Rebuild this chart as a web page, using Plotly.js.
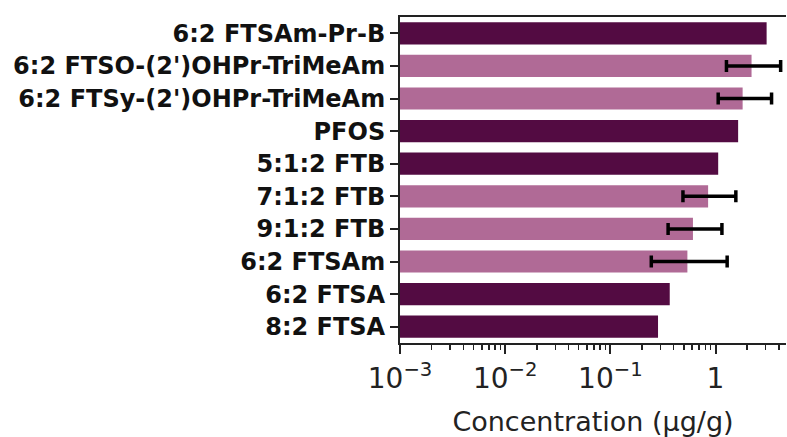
<!DOCTYPE html>
<html>
<head>
<meta charset="utf-8">
<script src="https://cdn.plot.ly/plotly-3.0.1.min.js"></script>
<style>html,body{margin:0;padding:0;background:#fff;}#chart{width:787px;height:437px;}</style>
</head>
<body>
<div id="chart"></div>
<script>
// Categories, top to bottom
const categories = ["6:2 FTSAm-Pr-B", "6:2 FTSO-(2')OHPr-TriMeAm", "6:2 FTSy-(2')OHPr-TriMeAm", "PFOS",
  "5:1:2 FTB", "7:1:2 FTB", "9:1:2 FTB", "6:2 FTSAm", "6:2 FTSA", "8:2 FTSA"];

// Dark bars (no error bars)
const darkCats = ["6:2 FTSAm-Pr-B", "PFOS", "5:1:2 FTB", "6:2 FTSA", "8:2 FTSA"];
const darkVals = [3.06, 1.64, 1.06, 0.367, 0.284];

// Light bars (with asymmetric error bars)
const lightCats = ["6:2 FTSO-(2')OHPr-TriMeAm", "6:2 FTSy-(2')OHPr-TriMeAm", "7:1:2 FTB", "9:1:2 FTB", "6:2 FTSAm"];
const lightVals = [2.2, 1.81, 0.85, 0.61, 0.54];
const lightLow  = [1.27, 1.06, 0.49, 0.354, 0.245];
const lightHigh = [4.16, 3.41, 1.56, 1.15, 1.29];

const tickVals = [0.001, 0.01, 0.1, 1];
const tickText = ["10<sup>\u22123</sup>", "10<sup>\u22122</sup>", "10<sup>\u22121</sup>", "1"];

const darkColor = "#530b42";
const lightColor = "#b06a96";

const traces = [
  {
    type: "bar", orientation: "h",
    x: darkVals, y: darkCats,
    marker: {color: darkColor, line: {width: 0}},
    hoverinfo: "skip"
  },
  {
    type: "bar", orientation: "h",
    x: lightVals, y: lightCats,
    marker: {color: lightColor, line: {width: 0}},
    error_x: {
      type: "data", symmetric: false,
      array: lightHigh.map((h, i) => h - lightVals[i]),
      arrayminus: lightLow.map((l, i) => lightVals[i] - l),
      color: "#000", thickness: 3.5, width: 6
    },
    hoverinfo: "skip"
  }
];

const layout = {
  width: 787, height: 437,
  margin: {l: 400, r: 1, t: 17, b: 94},
  paper_bgcolor: "#fff", plot_bgcolor: "#fff",
  showlegend: false,
  barmode: "overlay",
  bargap: 0.32,
  font: {family: "DejaVu Sans", color: "#111"},
  xaxis: {
    type: "log",
    range: [-3, 0.67],
    tickvals: tickVals, ticktext: tickText,
    tickfont: {family: "DejaVu Sans", size: 28, color: "#222"},
    ticks: "outside", ticklen: 9, tickwidth: 2, tickcolor: "#222",
    minor: {ticks: "outside", ticklen: 5, tickwidth: 1.5, tickcolor: "#222", dtick: "D1", showgrid: false},
    showgrid: false, zeroline: false,
    showline: true, linecolor: "#222", linewidth: 2, mirror: true,
    title: {text: "Concentration (\u03bcg/g)", font: {family: "DejaVu Sans", size: 27, color: "#222"}, standoff: 19}
  },
  yaxis: {
    type: "category",
    categoryorder: "array", categoryarray: categories,
    range: [9.5, -0.5],
    tickfont: {family: "DejaVu Sans", size: 24, weight: "bold", color: "#111"},
    ticks: "outside", ticklen: 8, tickwidth: 2, tickcolor: "#222",
    showgrid: false, zeroline: false,
    showline: true, linecolor: "#222", linewidth: 2, mirror: false
  }
};

Plotly.newPlot("chart", traces, layout, {displayModeBar: false, staticPlot: true});
</script>
</body>
</html>
